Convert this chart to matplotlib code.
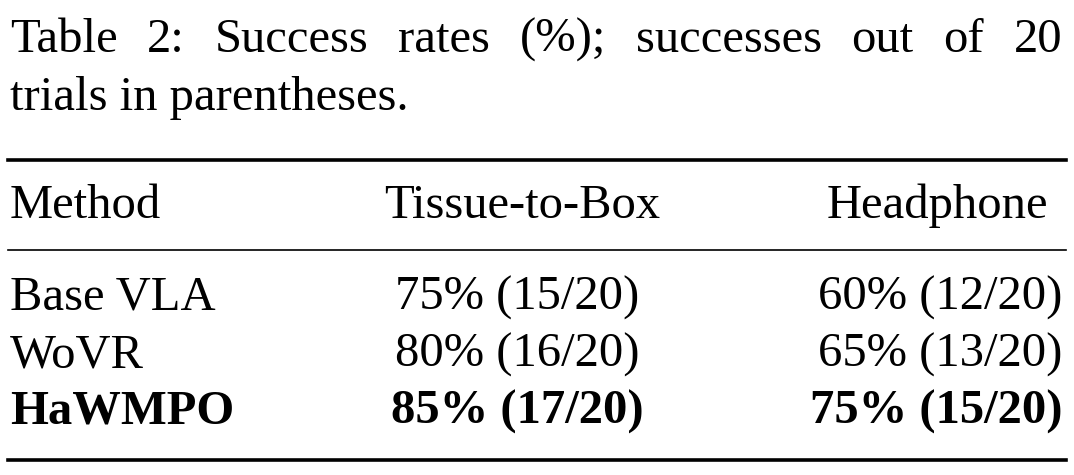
import matplotlib.pyplot as plt
from matplotlib.lines import Line2D

caption = ["Table 2:  Success rates (%); successes out of 20",
           "trials in parentheses."]
columns = ["Method", "Tissue-to-Box", "Headphone"]
methods = ["Base VLA", "WoVR", "HaWMPO"]
tissue_pct = [75, 80, 85]
tissue_n = [15, 16, 17]
headphone_pct = [60, 65, 75]
headphone_n = [12, 13, 15]
trials = 20
best = "HaWMPO"

plt.rcParams['font.family'] = ['Liberation Serif', 'DejaVu Serif']
W, H = 1074, 475
fig = plt.figure(figsize=(W / 100, H / 100), dpi=100)
ax = fig.add_axes([0, 0, 1, 1])
ax.set_xlim(0, W)
ax.set_ylim(H, 0)
ax.axis('off')
renderer = fig.canvas.get_renderer()

fs = 35

# first caption line justified to the table width, second left aligned
words = caption[0].replace("  ", " ").split(" ")
texts = [ax.text(0, 40, w, fontsize=fs, va='center', ha='left') for w in words]
widths = [t.get_window_extent(renderer).width for t in texts]
gap = (1062 - 10 - sum(widths)) / (len(words) - 1)
x = 10
for t, w in zip(texts, widths):
    t.set_x(x)
    x += w + gap
ax.text(10, 98, caption[1], fontsize=fs, va='center', ha='left')

def rule(y, lw):
    ax.add_line(Line2D([8, 1066], [y, y], color='black', linewidth=lw))

rule(160, 2.6)
rule(250, 1.2)
rule(460, 2.6)

head_x = [10, 522, 937]
head_ha = ['left', 'center', 'center']
for x, ha, name in zip(head_x, head_ha, columns):
    ax.text(x, 206, name, fontsize=fs, va='center', ha=ha)

col_x = [10, 517, 1062]
col_ha = ['left', 'center', 'right']
for r, m in enumerate(methods):
    y = 298 + r * 57
    w = 'bold' if m == best else 'normal'
    cells = [m,
             f"{tissue_pct[r]}% ({tissue_n[r]}/{trials})",
             f"{headphone_pct[r]}% ({headphone_n[r]}/{trials})"]
    for x, ha, c in zip(col_x, col_ha, cells):
        ax.text(x, y, c, fontsize=fs, va='center', ha=ha, fontweight=w)

fig.savefig("out.png", dpi=100)
